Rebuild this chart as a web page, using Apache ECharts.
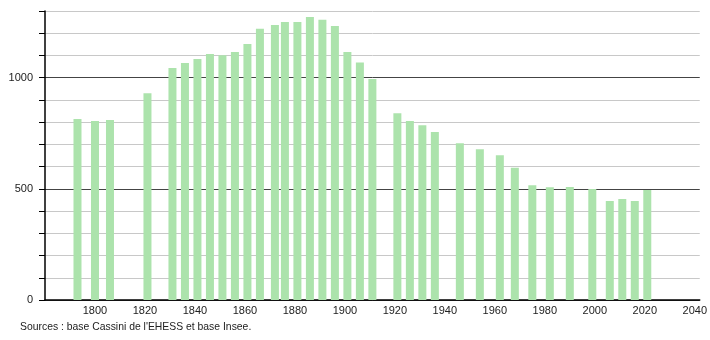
<!DOCTYPE html>
<html><head><meta charset="utf-8">
<script src="https://cdn.jsdelivr.net/npm/echarts@6/dist/echarts.min.js"></script>
<style>html,body{margin:0;padding:0;background:#fff}#c{width:710px;height:340px}</style>
</head><body><div id="c"></div>
<script>
const years = [1793,1800,1806,1821,1831,1836,1841,1846,1851,1856,1861,1866,1872,1876,1881,1886,1891,1896,1901,1906,1911,1921,1926,1931,1936,1946,1954,1962,1968,1975,1982,1990,1999,2006,2011,2016,2021];
const population = [814,805,810,930,1044,1066,1084,1107,1101,1116,1152,1220,1237,1251,1251,1273,1261,1233,1116,1068,994,840,805,786,756,705,678,651,595,516,507,508,499,445,454,445,495];
const yTickLabels = [0,500,1000];
const xTickLabels = [1800,1820,1840,1860,1880,1900,1920,1940,1960,1980,2000,2020,2040];
const sourceText = "Sources : base Cassini de l'EHESS et base Insee.";

const chart = echarts.init(document.getElementById('c'), null, {renderer:'canvas'});
const font = 'Liberation Sans';
chart.setOption({
  animation:false,
  grid:{left:45, right:10, top:11, bottom:40, containLabel:false},
  xAxis:{type:'value', min:1780, max:2042, interval:20,
    axisLine:{show:true, onZero:false, lineStyle:{color:'#000', width:1.5}},
    axisTick:{show:false},
    splitLine:{show:false},
    axisLabel:{margin:5, color:'#222', fontFamily:font, fontSize:11,
      formatter:v=>xTickLabels.includes(v)?String(v):''}
  },
  yAxis:{type:'value', min:0, max:1300, interval:100,
    axisLine:{show:true, lineStyle:{color:'#000', width:1.5}},
    axisTick:{show:true, length:6, lineStyle:{color:'#000'}},
    splitLine:{show:true, lineStyle:{color:['#444','#c8c8c8','#c8c8c8','#c8c8c8','#c8c8c8'], width:1}},
    axisLabel:{margin:12, color:'#222', fontFamily:font, fontSize:11,
      formatter:v=>yTickLabels.includes(v)?String(v):''}
  },
  graphic:[{type:'text', left:20, top:322, style:{text:sourceText, fill:'#222', font:'10.4px "Liberation Sans"'}}],
  series:[{type:'bar', barWidth:8, itemStyle:{color:'#ace3ac'},
    data: years.map((y,i)=>[y,population[i]])}]
});
</script></body></html>
